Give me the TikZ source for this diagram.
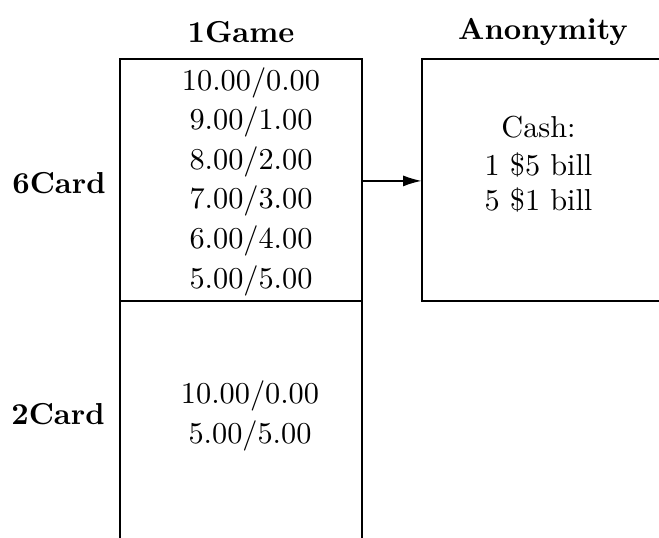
\documentclass[tikz,border=0pt]{standalone}
\usetikzlibrary{arrows.meta}
\begin{document}
\begin{tikzpicture}[x=0.33pt,y=-0.33pt,
    gamecell/.style={draw, rectangle, inner sep=0pt, minimum width=79.86pt, minimum height=79.86pt},
    amount/.style={anchor=base},
    hdr/.style={font=\bfseries}]
      \useasboundingbox (0,0) rectangle (659,537);
      \clip (0,0) rectangle (659,537);
      % cells
      \node [gamecell] (six) at (241,180) {};
      \node [gamecell] (two) at (241,422) {};
      \node [gamecell] (cash) at (543,180) {};
      % headers
      \node [hdr] (game) at (241,32) {1Game};
      \node [hdr] (anon) at (543,32) {Anonymity};
      \node [hdr, amount] (card6) at (59,193) {6Card};
      \node [hdr, amount] (card2) at (58,424) {2Card};
      % splits
      \node [amount] (s10) at (251,90) {10.00/0.00};
      \node [amount] (s9) at (251,129.6) {9.00/1.00};
      \node [amount] (s8) at (251,169.2) {8.00/2.00};
      \node [amount] (s7) at (251,208.8) {7.00/3.00};
      \node [amount] (s6) at (251,248.4) {6.00/4.00};
      \node [amount] (s5) at (251,288) {5.00/5.00};
      \node [amount] (t10) at (250,403) {10.00/0.00};
      \node [amount] (t5) at (250,443) {5.00/5.00};
      % money
      \node [amount] (c0) at (538.5,137) {Cash:};
      \node [amount] (c1) at (538.5,175) {1 \$5 bill};
      \node [amount] (c2) at (538.5,210) {5 \$1 bill};
      \draw [-{Latex[length=6pt,width=3.6pt]}] ([yshift=-0.3pt]six.east) -- ([yshift=-0.3pt]cash.west);
\end{tikzpicture}
\end{document}
